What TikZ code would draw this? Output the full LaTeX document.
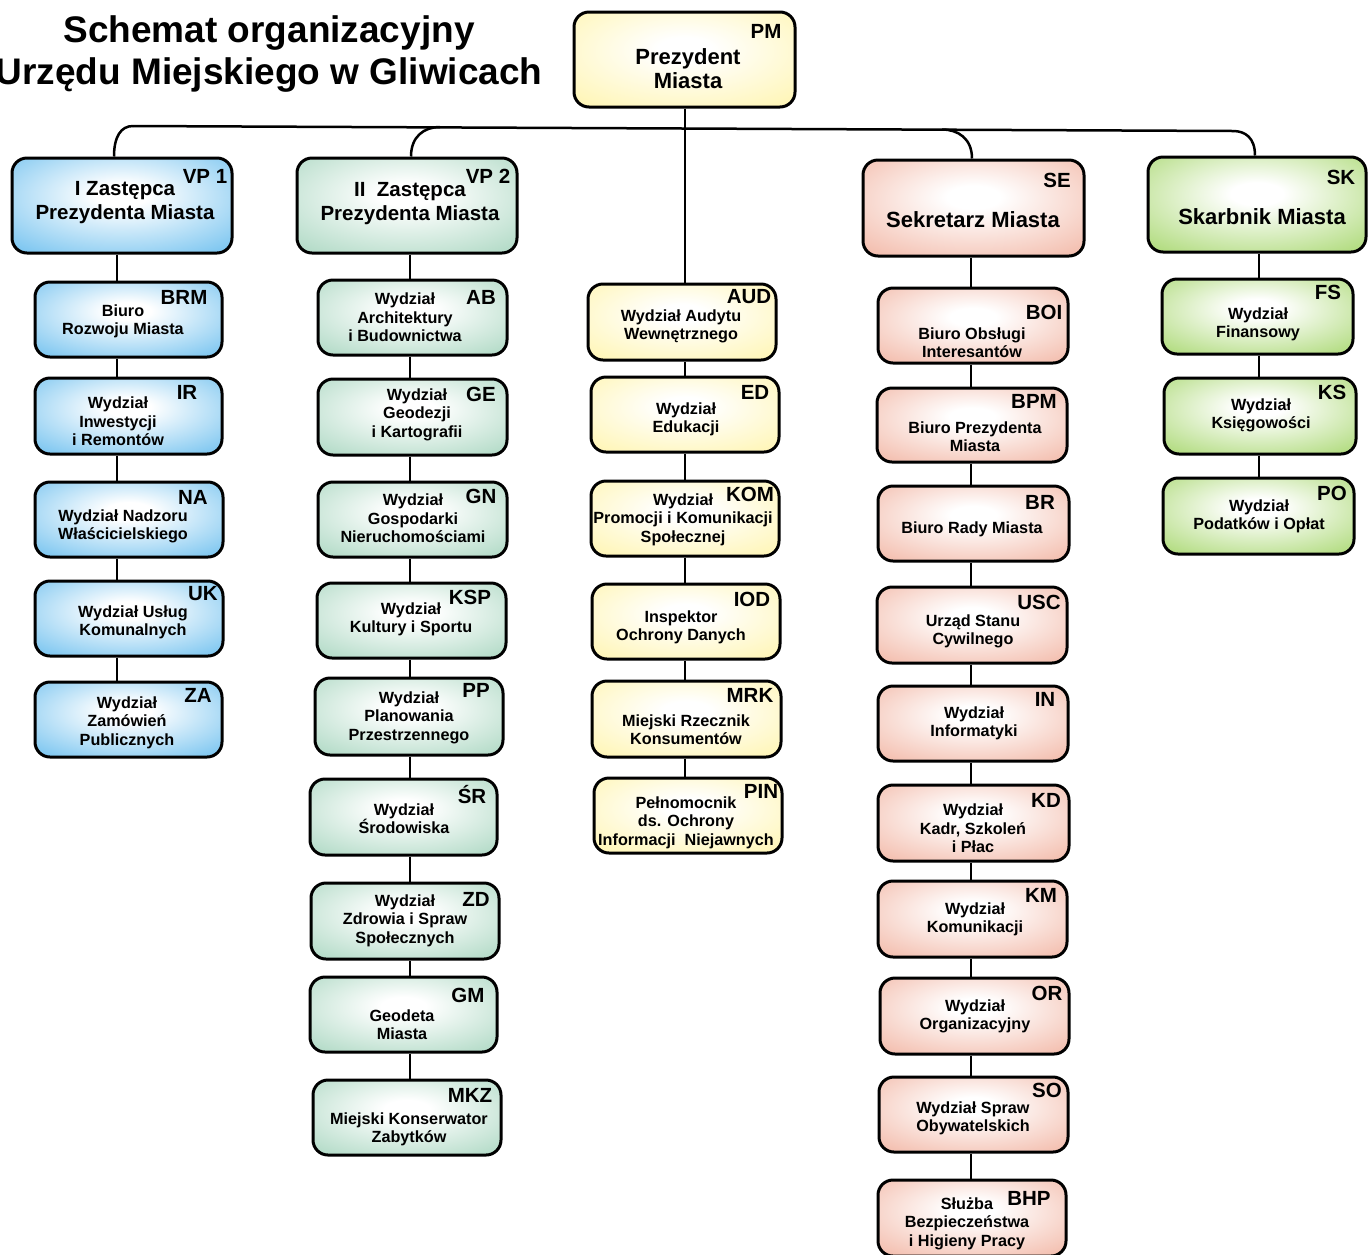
\documentclass[tikz,border=0pt]{standalone}
\usepackage{fontspec}
\setmainfont{Liberation Sans}
\usetikzlibrary{calc}
\definecolor{blueC}{RGB}{88,182,236}
\definecolor{mintC}{RGB}{158,209,184}
\definecolor{yelC}{RGB}{255,243,162}
\definecolor{salC}{RGB}{240,172,152}
\definecolor{limeC}{RGB}{156,210,92}
\colorlet{boxouter}{blueC}
\pgfdeclareradialshading[boxouter]{boxshade}{\pgfpoint{0bp}{6bp}}{color(0bp)=(white); color(6bp)=(white); color(44bp)=(boxouter); color(90bp)=(boxouter)}
\tikzset{
  box/.style={draw=black, line width=3pt, rounded corners=15pt, inner sep=0pt,
    /utils/exec={\colorlet{boxouter}{#1}}, shade, shading=boxshade},
  txt/.style={inner sep=0pt, align=center, yshift=-2.5pt, font=\bfseries\fontsize{16.2}{18.5}\selectfont},
  headtxt/.style={inner sep=0pt, align=center, yshift=-2.5pt, font=\bfseries\fontsize{22}{24}\selectfont},
  vptxt/.style={inner sep=0pt, align=center, yshift=-2.5pt, font=\bfseries\fontsize{20.5}{24}\selectfont},
  codelbl/.style={inner sep=0pt, font=\bfseries\fontsize{20.5}{24}\selectfont},
  titletxt/.style={inner sep=0pt, align=center, yshift=-3.5pt, font=\bfseries\fontsize{37}{42}\selectfont},
  conn/.style={draw=black, line width=2.5pt}
}
\newcommand\ob[6]{\node[box=#2, minimum width={#5-#3}, minimum height={#6-#4}] (#1) at ({(#3+#5)/2},{(#4+#6)/2}) {};}
\begin{document}
\begin{tikzpicture}[x=1pt,y=-1pt]
\useasboundingbox (0,0) rectangle (1368,1254);
% title
\node[titletxt] (title) at (269,51) {Schemat organizacyjny\\Urzędu Miejskiego w Gliwicach};
% column coordinates
\coordinate (c1) at (117,0);
\coordinate (c2) at (410,0);
\coordinate (c3) at (685,0);
\coordinate (c4) at (971,0);
\coordinate (c5) at (1259,0);
\coordinate (busL) at (133,126);
\coordinate (busR) at (1233,131);
\coordinate (k1) at (114,0);
\coordinate (k2) at (411,0);
\coordinate (k4) at (972,0);
\coordinate (k5) at (1255,0);
\coordinate (b2) at (440,127);
\coordinate (b4) at (942,129.5);

% ---- connectors (drawn first) ----
\draw[conn] (busL) -- (busR);
% ---- boxes ----
\ob{pm}{yelC}{574}{12}{795}{107}
\ob{vp1}{blueC}{12}{158}{232}{253}
\ob{vp2}{mintC}{297}{158}{517}{253}
\ob{se}{salC}{863}{160}{1084}{256}
\ob{sk}{limeC}{1148}{157}{1366}{252}
% col 1
\ob{brm}{blueC}{35}{282}{222}{357}
\ob{ir}{blueC}{35}{378}{222}{454}
\ob{na}{blueC}{35}{482}{223}{557}
\ob{uk}{blueC}{35}{581}{223}{656}
\ob{za}{blueC}{35}{682}{222}{757}
% col 2
\ob{ab}{mintC}{318}{280}{507}{355}
\ob{ge}{mintC}{318}{379}{507}{455}
\ob{gn}{mintC}{318}{482}{507}{557}
\ob{ksp}{mintC}{317}{583}{506}{658}
\ob{pp}{mintC}{315}{678}{503}{755}
\ob{sr}{mintC}{310}{779}{497}{855}
\ob{zd}{mintC}{311}{883}{499}{959}
\ob{gm}{mintC}{310}{977}{497}{1052}
\ob{mkz}{mintC}{313}{1080}{501}{1155}
% col 3
\ob{aud}{yelC}{588}{284}{776}{360}
\ob{ed}{yelC}{591}{377}{779}{452}
\ob{kom}{yelC}{591}{481}{779}{556}
\ob{iod}{yelC}{592}{584}{780}{659}
\ob{mrk}{yelC}{592}{681}{781}{757}
\ob{pin}{yelC}{594}{778}{782}{853}
% col 4
\ob{boi}{salC}{878}{288}{1068}{363}
\ob{bpm}{salC}{877}{388}{1067}{462}
\ob{br}{salC}{878}{486}{1069}{561}
\ob{usc}{salC}{877}{587}{1067}{663}
\ob{in}{salC}{878}{686}{1068}{761}
\ob{kd}{salC}{878}{785}{1069}{861}
\ob{km}{salC}{878}{881}{1067}{957}
\ob{or}{salC}{880}{978}{1069}{1054}
\ob{so}{salC}{879}{1077}{1068}{1152}
\ob{bhp}{salC}{878}{1180}{1066}{1256}
% col 5
\ob{fs}{limeC}{1162}{279}{1353}{354}
\ob{ks}{limeC}{1164}{378}{1356}{454}
\ob{po}{limeC}{1163}{478}{1354}{554}

% ---- bus curves ----
\draw[conn] (vp1.north -| k1) .. controls ($(vp1.north -| k1)+(0,-20)$) and ($(busL)+(-12,0)$) .. (busL);
\draw[conn] (vp2.north -| k2) .. controls ($(vp2.north -| k2)+(0,-20)$) and ($(b2)+(-16,0)$) .. (b2);
\draw[conn] (se.north -| k4) .. controls ($(se.north -| k4)+(0,-20)$) and ($(b4)+(16,0)$) .. (b4);
\draw[conn] (sk.north -| k5) .. controls ($(sk.north -| k5)+(0,-18)$) and ($(busR)+(12,0)$) .. (busR);
% ---- vertical lines ----
\draw[conn] (pm.south -| c3) -- (aud.north -| c3);
\foreach \a/\b in {vp1/brm,brm/ir,ir/na,na/uk,uk/za}
  \draw[conn] (\a.south -| c1) -- (\b.north -| c1);
\foreach \a/\b in {vp2/ab,ab/ge,ge/gn,gn/ksp,ksp/pp,pp/sr,sr/zd,zd/gm,gm/mkz}
  \draw[conn] (\a.south -| c2) -- (\b.north -| c2);
\foreach \a/\b in {aud/ed,ed/kom,kom/iod,iod/mrk,mrk/pin}
  \draw[conn] (\a.south -| c3) -- (\b.north -| c3);
\foreach \a/\b in {se/boi,boi/bpm,bpm/br,br/usc,usc/in,in/kd,kd/km,km/or,or/so,so/bhp}
  \draw[conn] (\a.south -| c4) -- (\b.north -| c4);
\foreach \a/\b in {sk/fs,fs/ks,ks/po}
  \draw[conn] (\a.south -| c5) -- (\b.north -| c5);

% ---- texts ----
\node[headtxt] (pm-t) at (688,66) {Prezydent\\Miasta};
\node[codelbl] (pm-c) at (766,31) {PM};
\node[vptxt] (vp1-t) at (125,200) {I Zastępca\\Prezydenta Miasta};
\node[codelbl] (vp1-c) at (205,176) {VP 1};
\node[vptxt] (vp2-t) at (410,201) {II\ \ Zastępca\\Prezydenta Miasta};
\node[codelbl] (vp2-c) at (488,176) {VP 2};
\node[headtxt] (se-t) at (973,217) {Sekretarz Miasta};
\node[codelbl] (se-c) at (1057,180) {SE};
\node[headtxt] (sk-t) at (1262,214) {Skarbnik Miasta};
\node[codelbl] (sk-c) at (1341,177) {SK};
% col 1
\node[txt] (brm-t) at (123,319) {Biuro\\Rozwoju Miasta};
\node[codelbl] (brm-c) at (184,297) {BRM};
\node[txt] (ir-t) at (118,419) {Wydział\\Inwestycji\\i Remontów};
\node[codelbl] (ir-c) at (187,392) {IR};
\node[txt] (na-t) at (123,524) {Wydział Nadzoru\\Właścicielskiego};
\node[codelbl] (na-c) at (193,497) {NA};
\node[txt] (uk-t) at (133,620) {Wydział Usług\\Komunalnych};
\node[codelbl] (uk-c) at (203,594) {UK};
\node[txt] (za-t) at (127,720) {Wydział\\Zamówień\\Publicznych};
\node[codelbl] (za-c) at (198,695) {ZA};
% col 2
\node[txt] (ab-t) at (405,315) {Wydział\\Architektury\\i Budownictwa};
\node[codelbl] (ab-c) at (481,297) {AB};
\node[txt] (ge-t) at (417,412) {Wydział\\Geodezji\\i Kartografii};
\node[codelbl] (ge-c) at (481,394) {GE};
\node[txt] (gn-t) at (413,516) {Wydział\\Gospodarki\\Nieruchomościami};
\node[codelbl] (gn-c) at (481,496) {GN};
\node[txt] (ksp-t) at (411,617) {Wydział\\Kultury i Sportu};
\node[codelbl] (ksp-c) at (470,597) {KSP};
\node[txt] (pp-t) at (409,715) {Wydział\\Planowania\\Przestrzennego};
\node[codelbl] (pp-c) at (476,690) {PP};
\node[txt] (sr-t) at (404,816) {Wydział\\Środowiska};
\node[codelbl] (sr-c) at (472,795) {ŚR};
\node[txt] (zd-t) at (405,918) {Wydział\\Zdrowia i Spraw\\Społecznych};
\node[codelbl] (zd-c) at (476,899) {ZD};
\node[txt] (gm-t) at (402,1022) {Geodeta\\Miasta};
\node[codelbl] (gm-c) at (468,995) {GM};
\node[txt] (mkz-t) at (409,1127) {Miejski Konserwator\\Zabytków};
\node[codelbl] (mkz-c) at (470,1095) {MKZ};
% col 3
\node[txt] (aud-t) at (681,324) {Wydział Audytu\\Wewnętrznego};
\node[codelbl] (aud-c) at (749,297) {AUD};
\node[txt] (ed-t) at (686,417) {Wydział\\Edukacji};
\node[codelbl] (ed-c) at (755,392) {ED};
\node[txt] (kom-t) at (683,517) {Wydział\\Promocji i Komunikacji\\Społecznej};
\node[codelbl] (kom-c) at (750,494) {KOM};
\node[txt] (iod-t) at (681,625) {Inspektor\\Ochrony Danych};
\node[codelbl] (iod-c) at (752,599) {IOD};
\node[txt] (mrk-t) at (686,727) {Miejski Rzecznik\\Konsumentów};
\node[codelbl] (mrk-c) at (750,695) {MRK};
\node[txt] (pin-t) at (686,820) {Pełnomocnik\\ds. Ochrony\\Informacji\ \ Niejawnych};
\node[codelbl] (pin-c) at (761,791) {PIN};
% col 4
\node[txt] (boi-t) at (972,340) {Biuro Obsługi\\Interesantów};
\node[codelbl] (boi-c) at (1044,312) {BOI};
\node[txt] (bpm-t) at (975,434) {Biuro Prezydenta\\Miasta};
\node[codelbl] (bpm-c) at (1034,401) {BPM};
\node[txt] (br-t) at (972,527) {Biuro Rady Miasta};
\node[codelbl] (br-c) at (1040,502) {BR};
\node[txt] (usc-t) at (973,629) {Urząd Stanu\\Cywilnego};
\node[codelbl] (usc-c) at (1039,602) {USC};
\node[txt] (in-t) at (974,721) {Wydział\\Informatyki};
\node[codelbl] (in-c) at (1045,699) {IN};
\node[txt] (kd-t) at (973,826) {Wydział\\Kadr, Szkoleń\\i Płac};
\node[codelbl] (kd-c) at (1046,800) {KD};
\node[txt] (km-t) at (975,917) {Wydział\\Komunikacji};
\node[codelbl] (km-c) at (1041,895) {KM};
\node[txt] (or-t) at (975,1014) {Wydział\\Organizacyjny};
\node[codelbl] (or-c) at (1047,993) {OR};
\node[txt] (so-t) at (973,1116) {Wydział Spraw\\Obywatelskich};
\node[codelbl] (so-c) at (1047,1090) {SO};
\node[txt] (bhp-t) at (967,1221) {Służba\\Bezpieczeństwa\\i Higieny Pracy};
\node[codelbl] (bhp-c) at (1029,1198) {BHP};
% col 5
\node[txt] (fs-t) at (1258,322) {Wydział\\Finansowy};
\node[codelbl] (fs-c) at (1328,292) {FS};
\node[txt] (ks-t) at (1261,413) {Wydział\\Księgowości};
\node[codelbl] (ks-c) at (1332,392) {KS};
\node[txt] (po-t) at (1259,514) {Wydział\\Podatków i Opłat};
\node[codelbl] (po-c) at (1332,493) {PO};
\end{tikzpicture}
\end{document}
